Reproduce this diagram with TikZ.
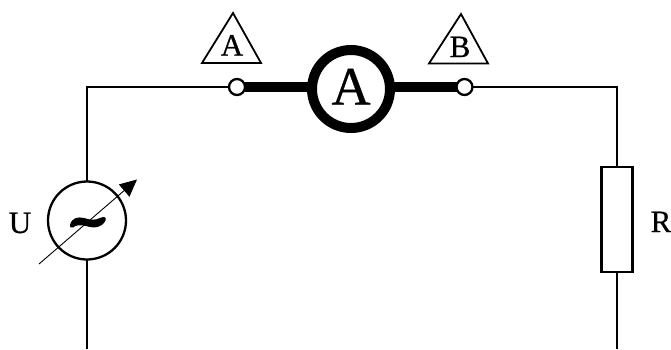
\documentclass[tikz,border=0pt]{standalone}
\usepackage{fontspec}
\setmainfont[FakeBold=0.6]{Liberation Serif}
\usetikzlibrary{arrows.meta}
\tikzset{
  x=1pt,y=-1pt,
  wire/.style={line width=2.3pt,line cap=butt},
  thickwire/.style={line width=10pt},
  terminal/.style={circle,draw=black,fill=white,line width=2.3pt,minimum size=16pt,inner sep=0pt,outer sep=0pt},
  meter/.style={circle,draw=black,fill=white,line width=10pt,minimum size=78pt,inner sep=0pt,outer sep=0pt},
  source/.style={circle,draw=black,fill=white,line width=2.3pt,minimum size=78pt,inner sep=0pt,outer sep=0pt},
  resistor/.style={rectangle,draw=black,fill=white,line width=2.3pt,minimum width=31pt,minimum height=105pt,inner sep=0pt,outer sep=0pt},
  lab/.style={inner sep=0pt,anchor=base},
  tag/.style={draw=black,line width=1.8pt,line join=miter},
}
\begin{document}
\begin{tikzpicture}
\useasboundingbox (0,0) rectangle (671,349);
\coordinate (bl) at (87,349);
\coordinate (br) at (617,349);
\coordinate (tl) at (87,87);
\coordinate (tr) at (617,87);
\node[terminal] (ta) at (237,87) {};
\node[terminal] (tb) at (464.5,87) {};
\node[meter] (am) at (351,89) {};
\node[source] (src) at (87,220.5) {};
\node[resistor] (res) at (617,219.5) {};
% wires
\draw[wire] (ta.west) -- (tl) -- (src.north);
\draw[wire] (tb.east) -- (tr) -- (res.north);
\draw[wire] (src.south) -- (bl);
\draw[wire] (res.south) -- (br);
\draw[thickwire] (ta.east) -- (ta.east -| am.west);
\draw[thickwire] (tb.west) -- (tb.west -| am.east);
% adjustable arrow
\coordinate (arrs) at (39,264);
\coordinate (arre) at (137,179.5);
\draw[line width=0.9pt,-{Triangle[length=17pt,width=16pt]}] (arrs) -- (arre);
% tilde
\fill[black] (70,225) .. controls (72,217.5) and (78,216.5) .. (84,218)
  .. controls (90,220) and (95,220.5) .. (100,218)
  .. controls (105,215.5) and (106.5,218) .. (105.5,220.5)
  .. controls (102,228) and (94,228.5) .. (86,226)
  .. controls (80,224.5) and (76,225) .. (73,227.5)
  .. controls (70.5,228.5) and (69.5,227) .. (70,225) -- cycle;
% labels
\node[lab,font=\fontsize{54}{54}\selectfont] (amlab) at (351,104.5) {A};
\node[lab,font=\fontsize{31}{31}\selectfont] (ul) at (20,233) {U};
\node[lab,font=\fontsize{31}{31}\selectfont] (rl) at (661,232) {R};
\draw[tag] (233,13) -- (261,63) -- (202,63) -- cycle;
\draw[tag] (461,14) -- (488,63.5) -- (429,63.5) -- cycle;
\node[lab,font=\fontsize{31}{31}\selectfont] (la) at (232,55.5) {A};
\node[lab,font=\fontsize{31}{31}\selectfont] (lb) at (460,57) {B};
\end{tikzpicture}
\end{document}
